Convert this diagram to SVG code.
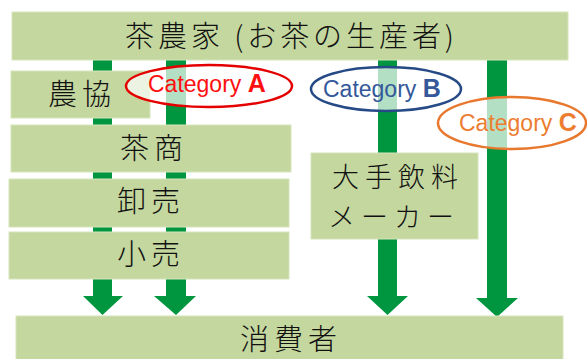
<svg xmlns="http://www.w3.org/2000/svg" width="587" height="359" viewBox="0 0 587 359">
<style>
.box{fill:#C4D79E;stroke:#D6E4BC;stroke-width:1}
.arr{fill:#00963F}
.jp{font-family:"Noto Sans CJK JP","Noto Sans CJK SC",sans-serif;font-size:29px;font-weight:300;fill:#111;text-anchor:middle;letter-spacing:5px}
.mk{font-size:27px;letter-spacing:6px}
.cat{font-family:"Liberation Sans",Arial,sans-serif;font-size:23px}
.big{font-weight:bold;font-size:25px}
.ell{fill:#FFFFFF;fill-opacity:0.7;stroke-width:2.5}
</style>
<rect width="587" height="359" fill="#FFFFFF"/>
<g id="connectors">
<polygon class="arr" points="93,60 112,60 112,296 123,296 102.5,315 83,296 93,296"/>
<polygon class="arr" points="166,60 186,60 186,296 196,296 176,315 154,296 166,296"/>
<polygon class="arr" points="378,60 397,60 397,296 408,296 387.5,315 367,296 378,296"/>
<polygon class="arr" points="487,60 507,60 507,298 518,298 497,317 476,298 487,298"/>
</g>
<g id="farmer">
<rect class="box" x="12" y="12" width="556" height="48"/>
<text class="jp" x="292" y="47" textLength="334" lengthAdjust="spacing">茶農家 (お茶の生産者)</text>
</g>
<g id="nokyo">
<rect class="box" x="11" y="71" width="139" height="47"/>
<text class="jp" x="82" y="105">農協</text>
</g>
<g id="chasho">
<rect class="box" x="11" y="125" width="280" height="47"/>
<text class="jp" x="154" y="159">茶商</text>
</g>
<g id="oroshi">
<rect class="box" x="9" y="179" width="280" height="48"/>
<text class="jp" x="151" y="212">卸売</text>
</g>
<g id="kouri">
<rect class="box" x="9" y="232" width="280" height="47"/>
<text class="jp" x="151" y="265">小売</text>
</g>
<g id="maker">
<rect class="box" x="311" y="153" width="167" height="86"/>
<text class="jp mk"><tspan x="398" y="187">大手飲料</tspan><tspan x="394" y="227">メーカー</tspan></text>
</g>
<g id="consumer">
<rect class="box" x="16" y="316" width="547" height="50"/>
<text class="jp" x="291" y="350">消費者</text>
</g>
<g id="catA">
<ellipse class="ell" cx="209" cy="86" rx="83" ry="21" stroke="#E50000"/>
<text class="cat" x="148" y="92" fill="#FF1010">Category <tspan class="big">A</tspan></text>
</g>
<g id="catB">
<ellipse class="ell" cx="386" cy="89" rx="75" ry="22" stroke="#254A85"/>
<text class="cat" x="323" y="97" fill="#34589A">Category <tspan class="big">B</tspan></text>
</g>
<g id="catC">
<ellipse class="ell" cx="512" cy="123" rx="74" ry="26" stroke="#E8782E"/>
<text class="cat" x="459" y="131" fill="#ED7D31">Category <tspan class="big">C</tspan></text>
</g>
</svg>
